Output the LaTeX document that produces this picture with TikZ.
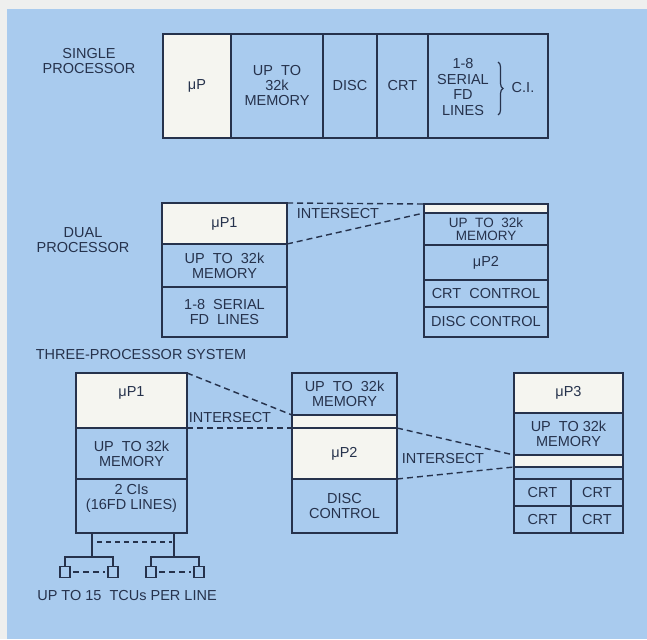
\documentclass[tikz,border=0pt]{standalone}
\usepackage{fontspec}
\setmainfont{Liberation Sans}
\usetikzlibrary{decorations.pathreplacing}

\definecolor{bleu}{RGB}{169,203,238}
\definecolor{blanc}{RGB}{245,245,240}
\definecolor{encre}{RGB}{38,50,76}
\definecolor{marge}{RGB}{238,239,238}

\tikzset{
  bloc/.style={draw=encre, line width=1.4pt, fill=bleu, anchor=north west,
    inner sep=0pt, outer sep=0pt, align=center, text=encre},
  blocblanc/.style={bloc, fill=blanc},
  etiquette/.style={text=encre, align=center, inner sep=0pt},
  trait/.style={draw=encre, line width=1.4pt},
  pointille/.style={draw=encre, line width=1.4pt, dash pattern=on 6pt off 4pt},
  terminal/.style={draw=encre, line width=1.3pt, minimum width=10pt,
    minimum height=11pt, inner sep=0pt, outer sep=0pt}
}

\begin{document}
\begin{tikzpicture}[x=1pt, y=-1pt, font=\fontsize{14.5}{15}\selectfont]
    % Dessiner le fond
    \fill[marge] (0,0) rectangle (647,639);
    \fill[bleu] (7,9) rectangle (647,639);

    % Un seul processeur
    \node[etiquette] (t_simple) at (89,61) {SINGLE\\PROCESSOR};
    \node[blocblanc, minimum width=68pt, minimum height=104pt] (sp_mp) at (163,34) {μP};
    \node[bloc, minimum width=92pt, minimum height=104pt] (sp_mem) at (231,34) {UP\ \ TO\\32k\\MEMORY};
    \node[bloc, minimum width=54pt, minimum height=104pt] (sp_disc) at (323,34) {DISC};
    \node[bloc, minimum width=51pt, minimum height=104pt] (sp_crt) at (377,34) {CRT};
    \node[bloc, minimum width=120pt, minimum height=104pt] (sp_lignes) at (428,34) {};
    \node[etiquette, font=\fontsize{14.5}{15.5}\selectfont] (sp_fd) at (463,87) {1-8\\SERIAL\\FD\\LINES};
    \draw[trait, line width=1.2pt, decorate, decoration={brace, amplitude=5pt}] (498,62) -- (498,115);
    \node[etiquette] (sp_ci) at (523,88) {C.I.};

    % Deux processeurs
    \node[etiquette] (t_double) at (83,240) {DUAL\\PROCESSOR};
    \node[blocblanc, minimum width=125pt, minimum height=41pt] (dp_mp1) at (162,203) {μP1};
    \node[bloc, minimum width=125pt, minimum height=43pt] (dp_mem) at (162,244) {UP\ \ TO\ \ 32k\\MEMORY};
    \node[bloc, minimum width=125pt, minimum height=50pt] (dp_lignes) at (162,287) {1-8\ \ SERIAL\\FD\ \ LINES};
    \node[blocblanc, minimum width=124pt, minimum height=9pt] (dp_bande) at (424,204) {};
    \node[bloc, minimum width=124pt, minimum height=32pt, font=\fontsize{13.5}{13.5}\selectfont] (dp_mem2) at (424,213) {UP\ \ TO\ \ 32k\\MEMORY};
    \node[bloc, minimum width=124pt, minimum height=35pt] (dp_mp2) at (424,245) {μP2};
    \node[bloc, minimum width=124pt, minimum height=27pt] (dp_crt) at (424,280) {CRT\ \ CONTROL};
    \node[bloc, minimum width=124pt, minimum height=30pt] (dp_disc) at (424,307) {DISC\ CONTROL};
    \node[etiquette] (dp_inter) at (338,214) {INTERSECT};
    \draw[pointille] (dp_mp1.north east) -- (dp_bande.north west);
    \draw[pointille] (dp_mp1.south east) -- (dp_bande.south west);

    % Trois processeurs
    \node[etiquette] (t_triple) at (141,355) {THREE-PROCESSOR SYSTEM};
    \node[blocblanc, minimum width=111pt, minimum height=55pt] (tp_mp1) at (76,373) {μP1\\[2pt]};
    \node[bloc, minimum width=111pt, minimum height=51pt] (tp_mem) at (76,428) {UP\ \ TO\ 32k\\MEMORY};
    \node[bloc, minimum width=111pt, minimum height=54pt] (tp_ci) at (76,479) {2 CIs\\(16FD LINES)\\[4pt]};

    \node[bloc, minimum width=105pt, minimum height=42pt] (tp_mem2) at (292,373) {UP\ \ TO\ \ 32k\\MEMORY};
    \node[blocblanc, minimum width=105pt, minimum height=13pt] (tp_bande2) at (292,415) {};
    \node[blocblanc, minimum width=105pt, minimum height=51pt] (tp_mp2) at (292,428) {μP2};
    \node[bloc, minimum width=105pt, minimum height=54pt] (tp_disc) at (292,479) {DISC\\CONTROL};

    \node[blocblanc, minimum width=109pt, minimum height=40pt] (tp_mp3) at (514,373) {μP3};
    \node[bloc, minimum width=109pt, minimum height=42pt] (tp_mem3) at (514,413) {UP\ \ TO\ 32k\\MEMORY};
    \node[blocblanc, minimum width=109pt, minimum height=12pt] (tp_bande3) at (514,455) {};
    \node[bloc, minimum width=109pt, minimum height=12pt] (tp_vide3) at (514,467) {};
    \node[bloc, minimum width=57pt, minimum height=27pt] (tp_crt1) at (514,479) {CRT};
    \node[bloc, minimum width=52pt, minimum height=27pt] (tp_crt2) at (571,479) {CRT};
    \node[bloc, minimum width=57pt, minimum height=27pt] (tp_crt3) at (514,506) {CRT};
    \node[bloc, minimum width=52pt, minimum height=27pt] (tp_crt4) at (571,506) {CRT};

    \node[etiquette] (tp_inter1) at (230,418) {INTERSECT};
    \node[etiquette] (tp_inter2) at (443,459) {INTERSECT};
    \draw[pointille] (tp_mp1.north east) -- (tp_bande2.north west);
    \draw[pointille] (tp_mp1.south east) -- (tp_bande2.south west);
    \draw[pointille] (tp_bande2.south east) -- (tp_bande3.north west);
    \draw[pointille] (tp_mp2.south east) -- (tp_bande3.south west);

    % Lignes vers les terminaux
    \coordinate (b1) at (92,557);
    \coordinate (b2) at (174,557);
    \coordinate (p1) at (92,542);
    \coordinate (p2) at (174,542);
    \node[terminal] (tcu1) at (65,572) {};
    \node[terminal] (tcu2) at (113,572) {};
    \node[terminal] (tcu3) at (151,572) {};
    \node[terminal] (tcu4) at (199,572) {};
    \draw[trait] (tp_ci.south -| b1) -- (b1);
    \draw[trait] (tp_ci.south -| b2) -- (b2);
    \draw[pointille, dash pattern=on 5pt off 4pt, shorten <=5pt, shorten >=2pt] (p1) -- (p2);
    \draw[trait] (tcu1.north) |- (b1) -| (tcu2.north);
    \draw[trait] (tcu3.north) |- (b2) -| (tcu4.north);
    \draw[pointille, dash pattern=on 6pt off 4pt, shorten <=3pt, shorten >=3pt] (tcu1.east) -- (tcu2.west);
    \draw[pointille, dash pattern=on 6pt off 4pt, shorten <=3pt, shorten >=3pt] (tcu3.east) -- (tcu4.west);
    \node[etiquette] (t_tcu) at (127,596) {UP TO 15\ \ TCUs PER LINE};
\end{tikzpicture}
\end{document}
